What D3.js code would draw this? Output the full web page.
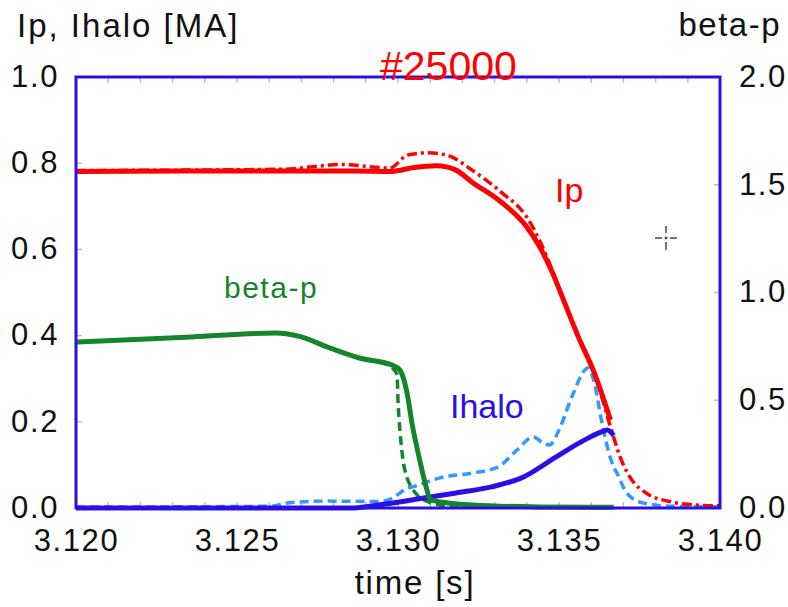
<!DOCTYPE html>
<html><head><meta charset="utf-8">
<script src="https://cdn.jsdelivr.net/npm/d3@7"></script>
<style>body{margin:0;background:#fff;} svg{display:block;} text{font-family:"Liberation Sans",Arial,sans-serif;}</style>
</head><body><svg id="c" width="788" height="607"></svg>
<script>
// ---- data ----
const xTicks = [3.120, 3.125, 3.130, 3.135, 3.140];
const yLeftTicks = [0.0, 0.2, 0.4, 0.6, 0.8, 1.0];
const yRightTicks = [0.0, 0.5, 1.0, 1.5, 2.0];
const ipSolid = [[3.120,0.781],[3.125,0.782],[3.1285,0.782],[3.1298,0.781],[3.1305,0.790],[3.1312,0.794],[3.1318,0.784],[3.1323,0.756],[3.1332,0.710],[3.1340,0.652],[3.1344,0.606],[3.1348,0.545],[3.1351,0.490],[3.1356,0.397],[3.1361,0.313],[3.1366,0.204]];
const ipDashed = [[3.120,0.783],[3.1265,0.786],[3.1275,0.793],[3.1282,0.797],[3.12975,0.789],[3.1303,0.819],[3.1309,0.824],[3.1315,0.819],[3.1323,0.784],[3.1332,0.733],[3.1340,0.675],[3.1348,0.550],[3.1351,0.490],[3.1356,0.397],[3.1361,0.313],[3.1366,0.188],[3.1369,0.118],[3.1372,0.072],[3.1377,0.035],[3.1385,0.014],[3.1392,0.007],[3.140,0.005]];
const betaSolid = [[3.1200,0.77],[3.1236,0.794],[3.1262,0.812],[3.1270,0.794],[3.1278,0.747],[3.1288,0.696],[3.1298,0.664],[3.13006,0.64],[3.13028,0.535],[3.13045,0.38],[3.13059,0.28],[3.1309,0.084],[3.1310,0.038],[3.1323,0.014],[3.1344,0.005],[3.1367,0.003]];
const betaDashed = [[3.1200,0.77],[3.1236,0.794],[3.1262,0.812],[3.1270,0.794],[3.1278,0.747],[3.1288,0.696],[3.1297,0.662],[3.12997,0.62],[3.1300,0.50],[3.13006,0.36],[3.13016,0.22],[3.13028,0.14],[3.1304,0.10],[3.1306,0.06],[3.1310,0.025],[3.1316,0.01],[3.1325,0.005]];
const ihaloSolid = [[3.120,0.0],[3.1285,0.0],[3.1295,0.008],[3.1308,0.023],[3.1318,0.035],[3.1329,0.049],[3.1339,0.072],[3.1349,0.118],[3.1358,0.158],[3.1363,0.176],[3.1365,0.181],[3.1367,0.168]];
const ihaloDashed = [[3.120,0.002],[3.1260,0.004],[3.1267,0.013],[3.1278,0.016],[3.1294,0.015],[3.1298,0.022],[3.1303,0.046],[3.1305,0.050],[3.1313,0.070],[3.1323,0.081],[3.1331,0.095],[3.1337,0.135],[3.1342,0.165],[3.1345,0.151],[3.1347,0.146],[3.1350,0.181],[3.1354,0.258],[3.1359,0.325],[3.1361,0.290],[3.1363,0.211],[3.1365,0.142],[3.1367,0.095],[3.1368,0.081],[3.1371,0.035],[3.1376,0.012],[3.1385,0.004],[3.140,0.003]];

// ---- layout ----
const L = 76, R = 720, T = 77, B = 508;
const svg = d3.select("#c");
const x = d3.scaleLinear().domain([3.120, 3.140]).range([L, R]);
const yL = d3.scaleLinear().domain([0, 1]).range([B, T]);
const yR = d3.scaleLinear().domain([0, 2]).range([B, T]);

const RED = "#ff0000", GREEN = "#14852b", BLUE = "#2a10e6", LBLUE = "#3399ff";

// minor ticks
const tickCol = "#b8b8f4";
const minorX = d3.range(3.121, 3.1395, 0.001);
svg.append("g").selectAll("line.mt").data(minorX).join("line")
  .attr("x1", d => x(d)).attr("x2", d => x(d)).attr("y1", T).attr("y2", T + 6)
  .attr("stroke", tickCol).attr("stroke-width", 1.5);
svg.append("g").selectAll("line.mb").data(minorX).join("line")
  .attr("x1", d => x(d)).attr("x2", d => x(d)).attr("y1", B).attr("y2", B - 6)
  .attr("stroke", tickCol).attr("stroke-width", 1.5);
svg.append("g").selectAll("line").data([0.2,0.4,0.6,0.8]).join("line")
  .attr("x1", L).attr("x2", L + 6).attr("y1", d => yL(d)).attr("y2", d => yL(d))
  .attr("stroke", tickCol).attr("stroke-width", 1.5);
svg.append("g").selectAll("line").data([0.5,1.0,1.5]).join("line")
  .attr("x1", R).attr("x2", R - 6).attr("y1", d => yR(d)).attr("y2", d => yR(d))
  .attr("stroke", tickCol).attr("stroke-width", 1.5);

// lines
const line = ys => d3.line().x(d => x(d[0])).y(d => ys(d[1])).curve(d3.curveMonotoneX);
const g = svg.append("g").attr("fill", "none").attr("stroke-linejoin", "round").attr("stroke-linecap", "butt");
g.append("path").datum(ihaloDashed).attr("d", line(yL)).attr("stroke", LBLUE).attr("stroke-width", 3.5).attr("stroke-dasharray", "9,5");
g.append("path").datum(betaDashed).attr("d", line(yR)).attr("stroke", GREEN).attr("stroke-width", 3.5).attr("stroke-dasharray", "9,5");
g.append("path").datum(ipDashed).attr("d", line(yL)).attr("stroke", RED).attr("stroke-width", 3.5).attr("stroke-dasharray", "10,4,3,4");
g.append("path").datum(ihaloSolid).attr("d", line(yL)).attr("stroke", BLUE).attr("stroke-width", 5);
g.append("path").datum(betaSolid).attr("d", line(yR)).attr("stroke", GREEN).attr("stroke-width", 5);
g.append("path").datum(ipSolid).attr("d", line(yL)).attr("stroke", RED).attr("stroke-width", 5);

// frame
svg.append("rect").attr("x", L).attr("y", T).attr("width", R - L).attr("height", B - T)
  .attr("fill", "none").attr("stroke", BLUE).attr("stroke-width", 3);

// axes labels via d3 axes
const fs = 31;
const axB = svg.append("g").attr("transform", `translate(0,${B})`)
  .call(d3.axisBottom(x).tickValues(xTicks).tickFormat(d3.format(".3f")).tickSize(0).tickPadding(21));
const axL = svg.append("g").attr("transform", `translate(${L},0)`)
  .call(d3.axisLeft(yL).tickValues(yLeftTicks).tickFormat(d3.format(".1f")).tickSize(0).tickPadding(17));
const axR = svg.append("g").attr("transform", `translate(${R},0)`)
  .call(d3.axisRight(yR).tickValues(yRightTicks).tickFormat(d3.format(".1f")).tickSize(0).tickPadding(19));
[axB, axL, axR].forEach(a => {
  a.select(".domain").remove();
  a.selectAll("text").attr("font-size", fs).attr("fill", "#111").attr("letter-spacing", "1.6px")
    .attr("font-family", "Liberation Sans, Arial, sans-serif");
});
axL.selectAll("text").attr("dy", "0.3em");
axR.selectAll("text").attr("dy", "0.3em");

svg.append("text").attr("x", 17).attr("y", 37).attr("font-size", 33).attr("letter-spacing", "2px").attr("fill", "#111").text("Ip, Ihalo [MA]");
svg.append("text").attr("x", 781).attr("y", 36).attr("font-size", 33).attr("letter-spacing", "1.5px").attr("fill", "#111").attr("text-anchor", "end").text("beta-p");
svg.append("text").attr("x", 415).attr("y", 594).attr("font-size", 33).attr("letter-spacing", "1.8px").attr("fill", "#111").attr("text-anchor", "middle").text("time [s]");
svg.append("text").attr("x", 380).attr("y", 80).attr("font-size", 41).attr("fill", RED).text("#25000");

// series labels
svg.append("text").attr("x", 555).attr("y", 202).attr("font-size", 34).attr("fill", RED).text("Ip");
svg.append("text").attr("x", 224).attr("y", 298).attr("font-size", 30).attr("letter-spacing", "1.5px").attr("fill", GREEN).text("beta-p");
svg.append("text").attr("x", 450).attr("y", 418).attr("font-size", 34).attr("fill", BLUE).text("Ihalo");

// crosshair marker
const ch = svg.append("g").attr("stroke", "#444").attr("stroke-width", 1.5);
[[655,238,662,238],[670,238,677,238],[666,226,666,233],[666,242,666,250]].forEach(s =>
  ch.append("line").attr("x1", s[0]).attr("y1", s[1]).attr("x2", s[2]).attr("y2", s[3]));
ch.append("rect").attr("x", 665.5).attr("y", 237.5).attr("width", 1).attr("height", 1).attr("fill", "#444");
</script></body></html>
